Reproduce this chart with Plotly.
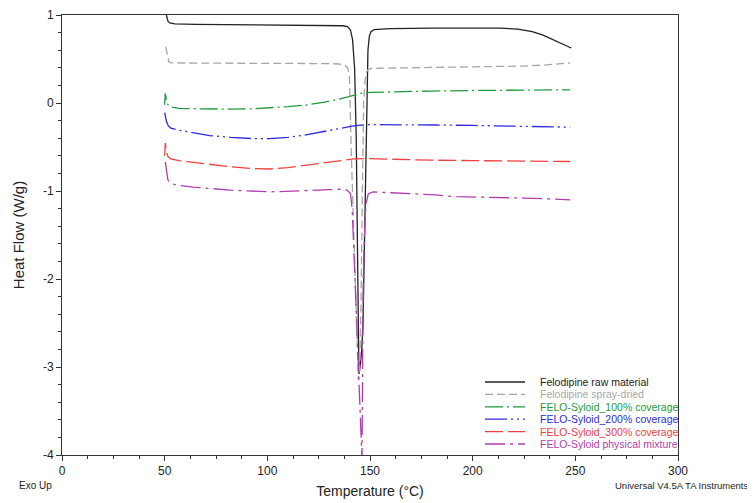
import plotly.graph_objects as go

# DSC curves (temperature in °C, heat flow in W/g)
temp_raw = [50.5, 51.0, 51.6, 52.5, 55, 65, 80, 100, 120, 130, 136.5, 139, 140.5, 141.5,
            142.5, 143.3, 143.9, 144.3, 144.6, 145.2, 146.0, 146.6, 147.3, 147.9, 148.4,
            149.0, 149.7, 150.5, 152, 160, 180, 200, 213, 222, 229, 234, 240, 248]
hf_raw = [1.03, 0.97, 0.93, 0.91, 0.90, 0.893, 0.889, 0.886, 0.884, 0.882, 0.878, 0.868,
          0.83, 0.72, 0.4, -0.4, -1.6, -2.6, -3.08, -3.0, -2.8, -2.5, -1.5, -0.5, 0.2,
          0.6, 0.76, 0.81, 0.835, 0.845, 0.85, 0.85, 0.85, 0.84, 0.81, 0.775, 0.71, 0.625]

temp_sd = [50.5, 51.3, 52, 53, 56, 80, 100, 120, 130, 135, 137.5, 139.2, 140.0, 140.8,
           141.8, 142.7, 143.6, 144.3, 145.0, 145.6, 146.3, 146.9, 147.6, 148.3, 149.2,
           151, 155, 165, 185, 200, 213, 225, 234, 241, 247.5]
hf_sd = [0.64, 0.52, 0.47, 0.458, 0.455, 0.452, 0.452, 0.45, 0.448, 0.443, 0.43, 0.40,
         0.3, -0.5, -1.3, -2.0, -2.7, -3.15, -3.0, -2.3, -1.0, 0.0, 0.26, 0.35, 0.385,
         0.392, 0.395, 0.398, 0.402, 0.405, 0.412, 0.42, 0.43, 0.44, 0.455]

temp_100 = [50.0, 50.3, 50.8, 51.6, 52.6, 57, 64, 72, 82, 92, 101, 110, 119, 128, 136,
            142, 146.6, 150, 165, 180, 200, 220, 247.5]
hf_100 = [-0.02, 0.11, 0.04, -0.02, -0.045, -0.06, -0.065, -0.07, -0.07, -0.066, -0.057,
          -0.042, -0.023, 0.01, 0.05, 0.09, 0.114, 0.12, 0.13, 0.136, 0.142, 0.147, 0.15]

temp_200 = [50.0, 50.4, 51, 51.8, 53, 57, 64, 72, 82, 93, 101, 110, 118, 126, 134, 142,
            148, 160, 182, 200, 220, 235, 247.5]
hf_200 = [-0.11, -0.16, -0.22, -0.26, -0.285, -0.31, -0.34, -0.37, -0.39, -0.405, -0.405,
          -0.39, -0.365, -0.33, -0.29, -0.26, -0.245, -0.245, -0.25, -0.255, -0.262,
          -0.267, -0.275]

temp_300 = [50.0, 50.3, 50.8, 51.6, 53, 57, 64, 72, 82, 92, 101, 110, 119, 128, 136, 142,
            148, 160, 180, 200, 220, 247.5]
hf_300 = [-0.60, -0.455, -0.54, -0.61, -0.635, -0.655, -0.675, -0.70, -0.725, -0.745,
          -0.75, -0.735, -0.705, -0.675, -0.65, -0.636, -0.632, -0.64, -0.65, -0.655,
          -0.66, -0.665]

temp_pm = [50.3, 51, 51.6, 52.6, 56, 63.8, 70, 81.8, 101.3, 110, 119.3, 130, 135.4, 138.8,
           140.5, 141.3, 142.7, 144.5, 146.1, 146.4, 146.7, 147.3, 148, 149.2, 151.5, 160,
           170, 182, 192, 205, 215, 225, 237, 247.5]
hf_pm = [-0.67, -0.8, -0.875, -0.91, -0.935, -0.955, -0.97, -0.99, -1.01, -1.0, -0.99,
         -0.985, -0.98, -0.99, -1.03, -1.2, -2.0, -3.0, -4.05, -3.0, -2.0, -1.5, -1.15,
         -1.03, -1.01, -1.02, -1.03, -1.045, -1.065, -1.07, -1.072, -1.08, -1.09, -1.10]

names = ["Felodipine raw material", "Felodipine spray-dried",
         "FELO-Syloid_100% coverage", "FELO-Syloid_200% coverage",
         "FELO-Syloid_300% coverage", "FELO-Syloid physical mixture"]
temps = [temp_raw, temp_sd, temp_100, temp_200, temp_300, temp_pm]
flows = [hf_raw, hf_sd, hf_100, hf_200, hf_300, hf_pm]
colors = ["#222222", "#a6a6a6", "#1f9a3c", "#2a2ae0", "#f04040", "#b03cb0"]
dashes = ["solid", "8px,4px", "18px,4px,2px,4px", "22px,4px,2px,4px,2px,4px",
          "18px,5px", "20px,5px,3px,5px"]

y_ticks = [1, 0, -1, -2, -3, -4]
y_ticklabels = ["1", "0", "-1", "-2", "-3", "-4"]

fig = go.Figure()
for t, f, n, c, d in zip(temps, flows, names, colors, dashes):
    fig.add_trace(go.Scatter(x=t, y=f, name=n, mode="lines",
                             line=dict(color=c, width=1.3, dash=d),
                             showlegend=False))

# hand-made legend (tight row spacing like the instrument software)
row0, row_h = 382, 12.4
for i, (n, c, d) in enumerate(zip(names, colors, dashes)):
    yp = (455 - (row0 + i * row_h)) / 440
    fig.add_shape(type="line", xref="paper", yref="paper",
                  x0=(485 - 62) / 616, x1=(525 - 62) / 616, y0=yp, y1=yp,
                  line=dict(color=c, width=1.3, dash=d))
    fig.add_annotation(xref="paper", yref="paper", x=(538 - 62) / 616, y=yp,
                       xanchor="left", yanchor="middle", showarrow=False,
                       text=n, font=dict(size=10.5, color=c, family="Arial"))

fig.add_annotation(xref="paper", yref="paper", x=(17 - 62) / 616, y=(455 - 485) / 440,
                   xanchor="left", yanchor="middle", showarrow=False, text="Exo Up",
                   font=dict(size=10, color="#222", family="Arial"))
fig.add_annotation(xref="paper", yref="paper", x=(750 - 62) / 616, y=(455 - 485) / 440,
                   xanchor="right", yanchor="middle", showarrow=False,
                   text="Universal V4.5A TA Instruments",
                   font=dict(size=9.5, color="#222", family="Arial"))

axis_style = dict(showline=True, linecolor="#333", linewidth=1, mirror=True,
                  ticks="outside", ticklen=5, tickcolor="#333", showgrid=False,
                  zeroline=False, automargin=False,
                  tickfont=dict(size=12, color="#222", family="Arial"))

# page body has an 8px margin, so the figure is drawn 8px smaller
fig.update_layout(
    width=747, height=495,
    margin=dict(l=54, r=77, t=7, b=48, autoexpand=False),
    paper_bgcolor="white", plot_bgcolor="white",
    font=dict(family="Arial", color="#222"),
    xaxis=dict(range=[0, 300], dtick=50, tick0=0,
               minor=dict(dtick=12.5, tick0=0, ticklen=3, ticks="outside", tickcolor="#333"),
               title=dict(text="Temperature (°C)", font=dict(size=14), standoff=8),
               **axis_style),
    yaxis=dict(range=[-4, 1], tickmode="array", tickvals=y_ticks, ticktext=y_ticklabels,
               minor=dict(dtick=0.2, tick0=0, ticklen=3, ticks="outside", tickcolor="#333"),
               title=dict(text="Heat Flow (W/g)", font=dict(size=15), standoff=14),
               **axis_style),
)

fig.write_html("out.html")
